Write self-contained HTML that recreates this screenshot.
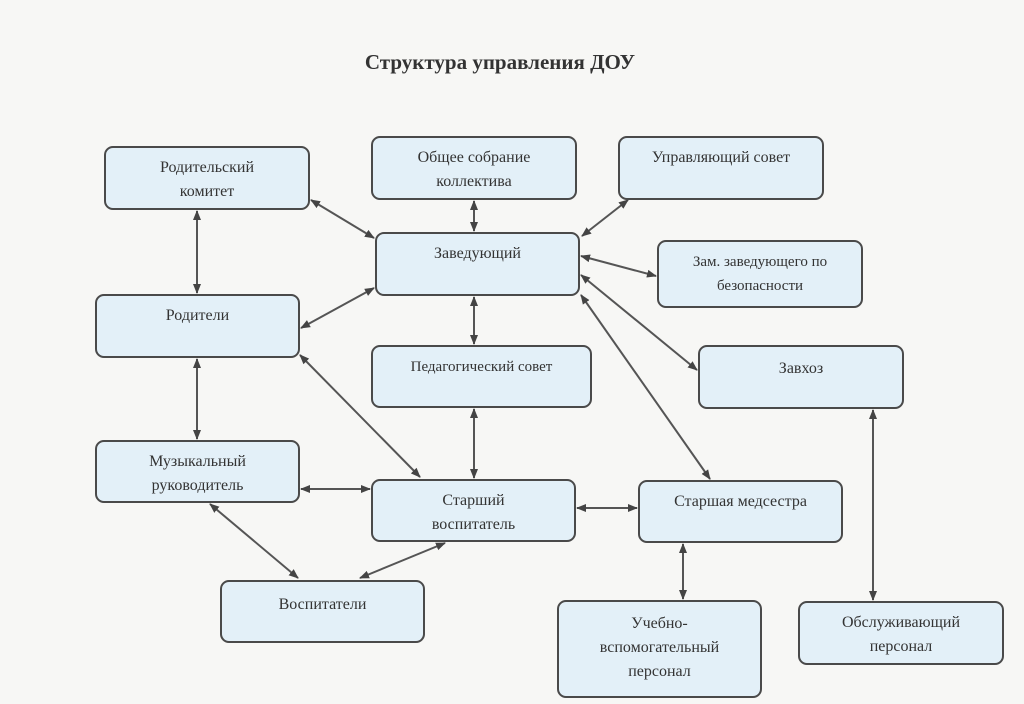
<!DOCTYPE html>
<html><head><meta charset="utf-8"><style>
body{margin:0;width:1024px;height:704px;background:#f7f7f5;position:relative;overflow:hidden;font-family:"Liberation Serif",serif;}
.t{position:absolute;left:0;width:1000px;top:50px;text-align:center;font-weight:bold;font-size:21px;color:#333;}
.b{position:absolute;box-sizing:border-box;border:2px solid #4a4a4a;border-radius:9px;background:#e3f0f8;color:#333;font-size:16px;text-align:center;line-height:24px;padding-top:8px;}
svg{position:absolute;left:0;top:0}
</style></head><body>
<div class="t">Структура управления ДОУ</div>
<svg width="1024" height="704"><defs><marker id="a" markerWidth="10" markerHeight="10" refX="9" refY="5" orient="auto-start-reverse" markerUnits="userSpaceOnUse"><path d="M0,1 L10,5 L0,9z" fill="#444"/></marker></defs>
<g stroke="#555" stroke-width="2" marker-start="url(#a)" marker-end="url(#a)">
<line x1="311" y1="200" x2="374" y2="238"/>
<line x1="474" y1="201" x2="474" y2="231"/>
<line x1="628" y1="200" x2="582" y2="236"/>
<line x1="581" y1="256" x2="656" y2="276"/>
<line x1="581" y1="275" x2="697" y2="370"/>
<line x1="581" y1="295" x2="710" y2="479"/>
<line x1="374" y1="288" x2="301" y2="328"/>
<line x1="474" y1="297" x2="474" y2="344"/>
<line x1="474" y1="409" x2="474" y2="478"/>
<line x1="197" y1="211" x2="197" y2="293"/>
<line x1="197" y1="359" x2="197" y2="439"/>
<line x1="300" y1="355" x2="420" y2="477"/>
<line x1="301" y1="489" x2="370" y2="489"/>
<line x1="210" y1="504" x2="298" y2="578"/>
<line x1="445" y1="543" x2="360" y2="578"/>
<line x1="577" y1="508" x2="637" y2="508"/>
<line x1="683" y1="544" x2="683" y2="599"/>
<line x1="873" y1="410" x2="873" y2="600"/>
</g></svg>
<div class="b" style="left:104px;top:146px;width:206px;height:64px">Родительский<br>комитет</div>
<div class="b" style="left:371px;top:136px;width:206px;height:64px">Общее собрание<br>коллектива</div>
<div class="b" style="left:618px;top:136px;width:206px;height:64px">Управляющий совет</div>
<div class="b" style="left:375px;top:232px;width:205px;height:64px">Заведующий</div>
<div class="b" style="left:657px;top:240px;width:206px;height:68px;font-size:15px;">Зам. заведующего по<br>безопасности</div>
<div class="b" style="left:95px;top:294px;width:205px;height:64px">Родители</div>
<div class="b" style="left:371px;top:345px;width:221px;height:63px;font-size:15px">Педагогический совет</div>
<div class="b" style="left:698px;top:345px;width:206px;height:64px;padding-top:10px">Завхоз</div>
<div class="b" style="left:95px;top:440px;width:205px;height:63px">Музыкальный<br>руководитель</div>
<div class="b" style="left:371px;top:479px;width:205px;height:63px">Старший<br>воспитатель</div>
<div class="b" style="left:638px;top:480px;width:205px;height:63px">Старшая медсестра</div>
<div class="b" style="left:220px;top:580px;width:205px;height:63px;padding-top:11px">Воспитатели</div>
<div class="b" style="left:557px;top:600px;width:205px;height:98px;padding-top:10px">Учебно-<br>вспомогательный<br>персонал</div>
<div class="b" style="left:798px;top:601px;width:206px;height:64px">Обслуживающий<br>персонал</div>
</body></html>
